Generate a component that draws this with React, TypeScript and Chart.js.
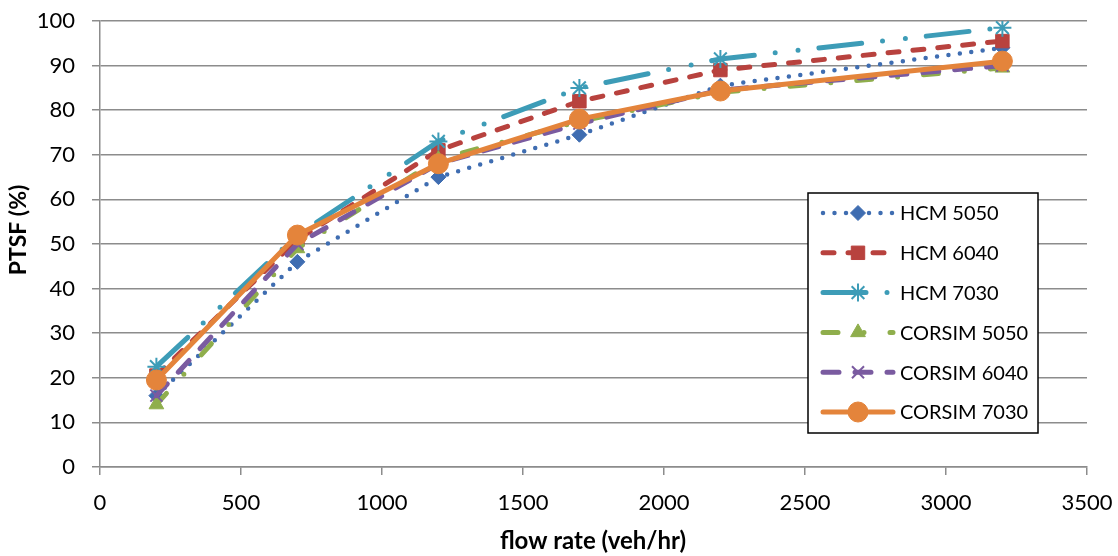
import React, { useEffect, useRef } from "react";
import { Chart, registerables } from "chart.js";
import { drawPoint } from "chart.js/helpers";

Chart.register(...registerables);

const flowRates = [200, 700, 1200, 1700, 2200, 3200];
const hcm5050 = [16, 46, 65, 74.5, 85.5, 94];
const hcm6040 = [20.5, 51, 71, 82, 89, 95.5];
const hcm7030 = [22.5, 52, 73, 85, 91.5, 98.5];
const corsim5050 = [14, 49, 69, 77.5, 84, 89.5];
const corsim6040 = [16, 50, 68, 77, 84.5, 90];
const corsim7030 = [19.5, 52, 68, 78, 84.3, 91];

const seriesNames = ["HCM 5050", "HCM 6040", "HCM 7030", "CORSIM 5050", "CORSIM 6040", "CORSIM 7030"];
const seriesValues = [hcm5050, hcm6040, hcm7030, corsim5050, corsim6040, corsim7030];

const xTitle = "flow rate (veh/hr)";
const yTitle = "PTSF (%)";

const FONT = "Lato, 'Liberation Sans', sans-serif";
const GRID = "#8c8c8c";

const styles = [
  { color: "#3f6db1", dash: [0, 11.5], width: 4.5, point: "rectRot", radius: 7.5, pbw: 1 },
  { color: "#b8423e", dash: [11, 14], width: 5, point: "rect", radius: 9.5, pbw: 1 },
  { color: "#3d9cb7", dash: [43, 21, 0, 23, 0, 21], width: 5, point: "star", radius: 9, pbw: 2 },
  { color: "#8fae4c", dash: [15, 26, 0, 26], width: 5, point: "triangle", radius: 8.5, pbw: 1 },
  { color: "#7a5ba0", dash: [16, 16], width: 5, point: "crossRot", radius: 8.5, pbw: 2 },
  { color: "#e4843b", dash: [], width: 5, point: "circle", radius: 10, pbw: 1 },
];

const legendPlugin = {
  id: "customLegend",
  afterDatasetsDraw(chart: any) {
    const ctx = chart.ctx;
    const bx = 808, by = 193, bw = 230, bh = 240;
    ctx.save();
    ctx.fillStyle = "#ffffff";
    ctx.fillRect(bx, by, bw, bh);
    ctx.strokeStyle = "#000000";
    ctx.lineWidth = 1.5;
    ctx.setLineDash([]);
    ctx.strokeRect(bx, by, bw, bh);
    seriesNames.forEach((name, i) => {
      const s = styles[i];
      const y = 213 + i * 39.8;
      ctx.save();
      ctx.beginPath();
      ctx.rect(819, y - 10, 78, 20);
      ctx.clip();
      ctx.strokeStyle = s.color;
      ctx.lineWidth = s.width;
      ctx.lineCap = "round";
      ctx.setLineDash(s.dash);
      ctx.beginPath();
      ctx.moveTo(823, y);
      ctx.lineTo(893, y);
      ctx.stroke();
      ctx.restore();
      ctx.save();
      ctx.setLineDash([]);
      ctx.fillStyle = s.color;
      ctx.strokeStyle = s.color;
      ctx.lineWidth = s.pbw;
      drawPoint(ctx, { pointStyle: s.point, radius: s.radius, rotation: 0, borderWidth: s.pbw } as any, 858, y);
      ctx.restore();
      ctx.fillStyle = "#000000";
      ctx.font = `20px ${FONT}`;
      ctx.textBaseline = "middle";
      ctx.textAlign = "left";
      ctx.fillText(name, 900, y + 1);
    });
    ctx.restore();
  },
  afterDraw(chart: any) {
    const ctx = chart.ctx;
    ctx.save();
    ctx.fillStyle = "#000000";
    ctx.textAlign = "center";
    ctx.textBaseline = "middle";
    ctx.font = `bold 24px ${FONT}`;
    ctx.fillText(xTitle, 593, 541);
    ctx.font = `bold 23px ${FONT}`;
    ctx.translate(19, 230);
    ctx.rotate(-Math.PI / 2);
    ctx.fillText(yTitle, 0, 0);
    ctx.restore();
  },
};

export default function App() {
  const ref = useRef<HTMLCanvasElement | null>(null);
  useEffect(() => {
    document.body.style.margin = "0";
    const canvas = ref.current;
    if (!canvas) return;
    const datasets = seriesNames.map((name, i) => {
      const s = styles[i];
      return {
        label: name,
        data: flowRates.map((x, j) => ({ x, y: seriesValues[i][j] })),
        borderColor: s.color,
        backgroundColor: s.color,
        borderWidth: s.width,
        borderDash: s.dash,
        borderCapStyle: "round" as const,
        borderJoinStyle: "round" as const,
        pointStyle: s.point as any,
        pointRadius: s.radius,
        pointBorderWidth: s.pbw,
        pointBackgroundColor: s.color,
        pointBorderColor: s.color,
        tension: 0,
        fill: false,
        order: 5 - i,
      };
    });
    const chart = new Chart(canvas, {
      type: "line",
      data: { datasets },
      options: {
        responsive: false,
        animation: false,
        layout: { padding: { left: 0, top: 21, right: 31, bottom: 0 } },
        plugins: { legend: { display: false }, tooltip: { enabled: false } },
        scales: {
          x: {
            type: "linear",
            min: 0,
            max: 3500,
            afterFit: (s: any) => { s.height = 89; s.paddingLeft = 0; s.paddingRight = 0; },
            ticks: { stepSize: 500, color: "#000", font: { family: FONT, size: 22 }, padding: 15, maxRotation: 0, callback: (v: any) => String(v) },
            grid: { drawOnChartArea: false, drawTicks: true, tickLength: 8, color: GRID, lineWidth: 1.5 },
            border: { display: true, color: GRID, width: 1.5 },
          },
          y: {
            type: "linear",
            min: 0,
            max: 100,
            afterFit: (s: any) => { s.width = 100; s.paddingTop = 0; s.paddingBottom = 0; },
            ticks: { stepSize: 10, color: "#000", font: { family: FONT, size: 22 }, padding: 17 },
            grid: { drawTicks: true, tickLength: 8, color: GRID, lineWidth: 1.5 },
            border: { display: true, color: GRID, width: 1.5 },
          },
        },
      },
      plugins: [legendPlugin],
    });
    return () => chart.destroy();
  }, []);
  return (
    <div style={{ width: 1118, height: 556 }}>
      <canvas ref={ref} width={1118} height={556} style={{ display: "block" }} />
    </div>
  );
}
